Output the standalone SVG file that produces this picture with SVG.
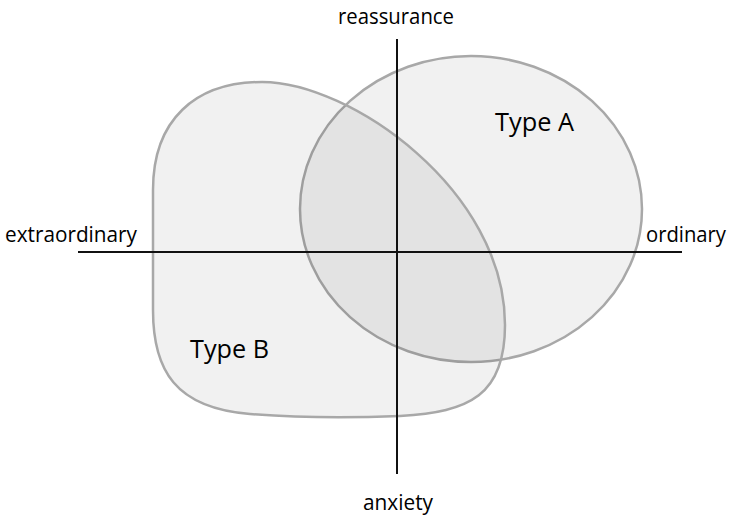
<svg xmlns="http://www.w3.org/2000/svg" width="729" height="516" viewBox="0 0 729 516">
  <style>
    .shape { fill: #000; fill-opacity: 0.055; stroke: #a8a8a8; stroke-width: 2.5; }
    .axis { stroke: #111; stroke-width: 2; fill: none; }
    .lbl { font-family: "Open Sans", Lato, "Liberation Sans", sans-serif; font-size: 21px; fill: #000; }
    .type { font-family: "Open Sans", Lato, "Liberation Sans", sans-serif; font-size: 25px; fill: #000; }
  </style>
  <rect width="729" height="516" fill="#fff"/>
  <g id="typeA">
    <ellipse class="shape" cx="471" cy="209" rx="171" ry="153"/>
    <text class="type" x="495" y="131" textLength="79" lengthAdjust="spacingAndGlyphs">Type A</text>
  </g>
  <g id="typeB">
    <path class="shape" d="M153,310 L153,190 C153,120 195,82 262,82 C350,82 505,190 505,325 C505,395 470,412 400,416 C350,418 300,418 250,414 C175,408 153,370 153,310 Z"/>
    <text class="type" x="190" y="358" textLength="79" lengthAdjust="spacingAndGlyphs">Type B</text>
  </g>
  <g id="connectors">
    <line class="axis" x1="78" y1="252" x2="682" y2="252"/>
    <line class="axis" x1="397" y1="39" x2="397" y2="474"/>
  </g>
  <g id="labels">
    <text class="lbl" x="338" y="24" textLength="116" lengthAdjust="spacingAndGlyphs">reassurance</text>
    <text class="lbl" x="5" y="242" textLength="132" lengthAdjust="spacingAndGlyphs">extraordinary</text>
    <text class="lbl" x="646" y="242" textLength="80" lengthAdjust="spacingAndGlyphs">ordinary</text>
    <text class="lbl" x="363" y="510" textLength="70" lengthAdjust="spacingAndGlyphs">anxiety</text>
  </g>
</svg>
